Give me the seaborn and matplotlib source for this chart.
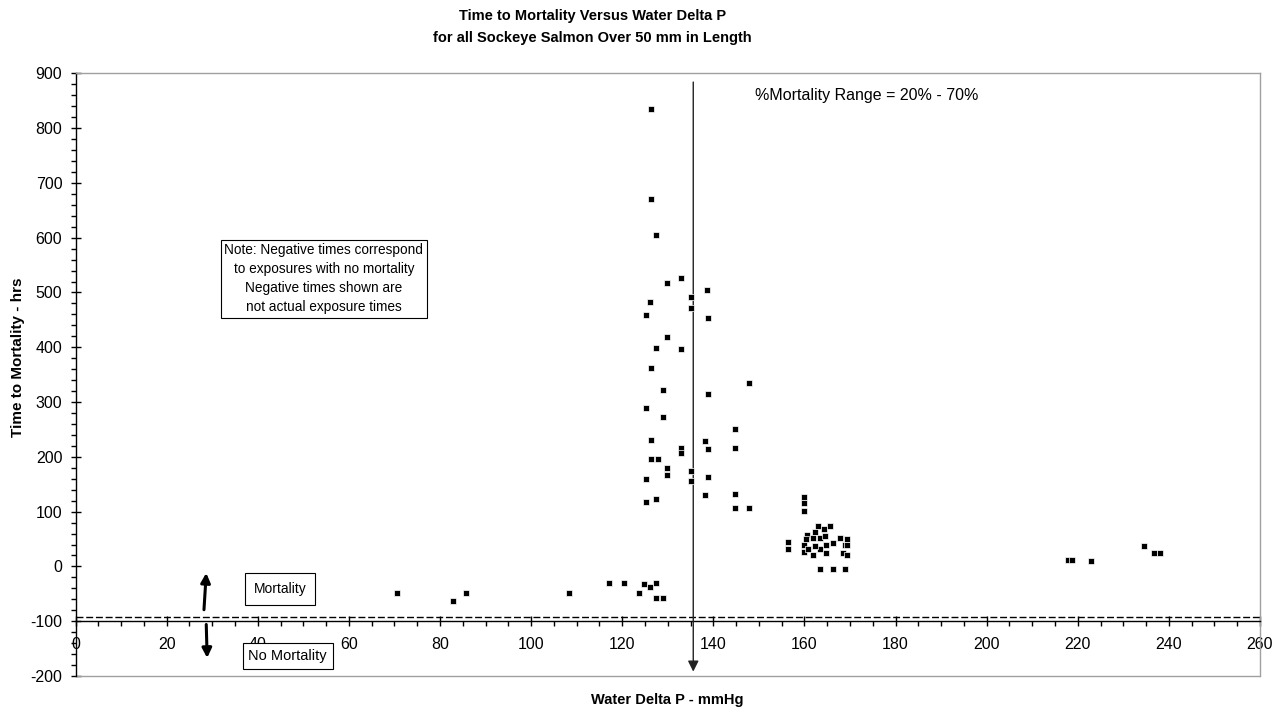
import matplotlib
matplotlib.use("Agg")
import matplotlib.pyplot as plt
from matplotlib.ticker import MultipleLocator
import seaborn as sns
import pandas as pd

# ---- data ----
delta_p = [
    # main cluster 117-148 mmHg
    126.4, 126.4, 127.5, 132.9, 129.8, 138.6, 135.2, 126.1, 135.2, 125.3,
    138.9, 129.8, 127.5, 132.9, 126.4, 147.9, 129.0, 138.9, 125.3, 129.0,
    144.8, 126.4, 138.1, 132.9, 138.9, 144.8, 132.9, 126.4, 127.8, 129.8,
    135.2, 129.8, 125.3, 138.9, 135.2, 138.1, 144.8, 127.5, 125.3, 144.8,
    147.9,
    # no-mortality exposures near the main cluster
    117.2, 120.3, 124.8, 127.5, 126.1, 123.7, 127.5, 129.0,
    # low delta P exposures
    70.6, 82.8, 85.8, 108.4,
    # cluster 156-170 mmHg
    159.8, 159.8, 159.8, 162.9, 164.3, 165.7, 162.3, 160.6, 161.8, 163.4,
    167.9, 169.4, 156.4, 166.3, 159.8, 164.8, 168.9, 163.4, 156.4, 159.8,
    161.8, 164.8, 168.5, 169.4, 163.4, 166.2, 168.8, 164.5, 160.3, 162.4,
    160.7, 169.4,
    # high delta P
    217.9, 218.7, 222.9, 234.5, 236.7, 238.1,
]
time_hrs = [
    835, 670, 604, 526, 517, 505, 491, 482, 472, 458,
    453, 419, 399, 397, 362, 334, 322, 315, 289, 273,
    251, 231, 228, 217, 214, 217, 207, 196, 196, 179,
    174, 167, 160, 163, 155, 130, 132, 123, 118, 106,
    106,
    -30, -30, -32, -30, -37, -48, -58, -58,
    -49, -63, -49, -49,
    127, 115, 102, 73, 68, 73, 63, 57, 51, 52,
    51, 50, 45, 43, 39, 39, 39, 31, 31, 26,
    21, 24, 24, 21, -4, -4, -4, 55, 50, 37,
    32, 40,
    12, 12, 10, 38, 24, 24,
]
x_ticks = list(range(0, 261, 20))
y_ticks = list(range(-200, 901, 100))

title_lines = ["Time to Mortality Versus Water Delta P",
               "for all Sockeye Salmon Over 50 mm in Length"]
x_label = "Water Delta P - mmHg"
y_label = "Time to Mortality - hrs"
range_text = "%Mortality Range = 20% - 70%"
note_text = ("Note: Negative times correspond\nto exposures with no mortality\n"
             "Negative times shown are\nnot actual exposure times")
mortality_threshold = -92
range_line_x = 135.6

df = pd.DataFrame({"delta_p": delta_p, "time_hrs": time_hrs})

sns.set_style("white")
plt.rcParams["font.family"] = ["Liberation Sans", "DejaVu Sans"]
plt.rcParams["axes.unicode_minus"] = False
plt.rcParams["text.color"] = "black"

W, H = 1288, 714
fig = plt.figure(figsize=(W / 100, H / 100), dpi=100)
left, right, top, bottom = 75.5, 1260, 73.3, 676
ax = fig.add_axes([left / W, 1 - bottom / H, (right - left) / W, (bottom - top) / H])

sns.scatterplot(data=df, x="delta_p", y="time_hrs", marker="s", color="black",
                s=20, edgecolor="white", linewidth=0.5, ax=ax, zorder=5)

ax.set_xlim(0, 260)
ax.set_ylim(-200, 900)
ax.set_xlabel("")
ax.set_ylabel("")

# spines
ax.spines["left"].set_color("black")
ax.spines["left"].set_linewidth(1)
ax.spines["bottom"].set_position(("data", -100))
ax.spines["bottom"].set_color("black")
ax.spines["bottom"].set_linewidth(1)
for s in ("top", "right"):
    ax.spines[s].set_visible(True)
    ax.spines[s].set_color("#a0a0a0")
    ax.spines[s].set_linewidth(1)
ax.axhline(-200, color="#a0a0a0", lw=1, clip_on=False, zorder=1)

# ticks
ax.set_xticks(x_ticks)
ax.set_xticklabels([str(v) for v in x_ticks])
ax.set_yticks(y_ticks)
ax.set_yticklabels([str(v) for v in y_ticks])
ax.xaxis.set_minor_locator(MultipleLocator(5))
ax.yaxis.set_minor_locator(MultipleLocator(20))
ax.tick_params(axis="both", which="major", direction="inout", length=7, width=1,
               colors="black", labelsize=11.5, bottom=True, left=True, top=False, right=False)
ax.tick_params(axis="x", which="major", pad=8)
ax.tick_params(axis="y", which="major", pad=6)
ax.tick_params(axis="both", which="minor", direction="out", length=3.5, width=1,
               colors="black", bottom=True, left=True, top=False, right=False)

# reference lines
ax.axhline(mortality_threshold, color="black", lw=1, dashes=(5, 2), zorder=2)
ax.annotate("", xy=(range_line_x, -192), xytext=(range_line_x, 884),
            arrowprops=dict(arrowstyle="-|>", color="#222222", lw=1,
                            mutation_scale=16, shrinkA=0, shrinkB=0), zorder=3)

# annotations
ax.text(149.1, 860, range_text, ha="left", va="center", fontsize=11.5)
ax.text(54.5, 525, note_text, ha="center", va="center", fontsize=9.8, linespacing=1.45,
        bbox=dict(boxstyle="square,pad=0.25", fc="white", ec="black", lw=0.8))
ax.text(44.9, -40.5, "Mortality", ha="center", va="center", fontsize=10,
        bbox=dict(boxstyle="square,pad=0.65", fc="white", ec="black", lw=0.8))
ax.text(46.6, -163.3, "No Mortality", ha="center", va="center", fontsize=10.5,
        bbox=dict(boxstyle="square,pad=0.4", fc="white", ec="black", lw=0.8), zorder=6)
ax.annotate("", xy=(28.7, -12), xytext=(28.2, -79),
            arrowprops=dict(arrowstyle="-|>", color="black", lw=2.2,
                            mutation_scale=14, shrinkA=0, shrinkB=0))
ax.annotate("", xy=(28.9, -167), xytext=(28.7, -106),
            arrowprops=dict(arrowstyle="-|>", color="black", lw=2.2,
                            mutation_scale=14, shrinkA=0, shrinkB=0))

# titles and axis labels
fig.text(0.460, 1 - 16 / H, title_lines[0], ha="center", va="center",
         fontsize=10.5, fontweight="bold")
fig.text(0.460, 1 - 38 / H, title_lines[1], ha="center", va="center",
         fontsize=10.5, fontweight="bold")
fig.text(667 / W, 1 - 700 / H, x_label, ha="center", va="center",
         fontsize=10.5, fontweight="bold")
fig.text(18 / W, 1 - 357 / H, y_label, ha="center", va="center", rotation=90,
         fontsize=11, fontweight="bold")

fig.savefig("out.png", dpi=100, facecolor="white")
